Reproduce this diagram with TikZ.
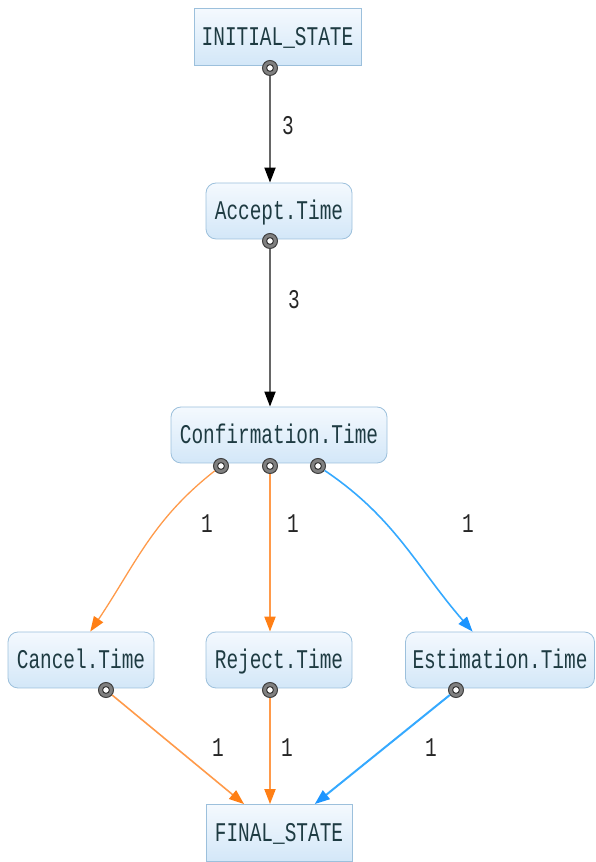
\documentclass[tikz,border=0pt]{standalone}
\usepackage{fontspec}
\newfontfamily\diagfont[FakeStretch=0.72]{Liberation Mono}
\usetikzlibrary{arrows.meta}
\usepackage{xcolor}
\definecolor{boxline}{HTML}{9CC0DC}
\definecolor{boxtop}{HTML}{F4F9FE}
\definecolor{boxbot}{HTML}{D3E7F8}
\definecolor{ink}{HTML}{1E3B42}
\definecolor{orng}{HTML}{FF9A4A}
\definecolor{orngtip}{HTML}{FF7F15}
\definecolor{sky}{HTML}{35A9FF}
\definecolor{skytip}{HTML}{1C95FF}

\begin{document}
\begin{tikzpicture}[x=1pt, y=1pt,
  statebox/.style={draw=boxline, thick, top color=boxtop, bottom color=boxbot, minimum width=146pt, minimum height=57pt, inner sep=0pt, text height=18pt, text depth=0pt, text=ink, font=\diagfont\fontsize{27}{27}\selectfont},
  act/.style={statebox, rounded corners=10pt, minimum height=56pt},
  port/.style={circle, draw=black!75, line width=1pt, fill=black!50, minimum size=15pt, inner sep=0pt,
    path picture={\draw[black!80, line width=1pt, fill=white] (path picture bounding box.center) circle (3.4pt);}},
  num/.style={text=black!85, font=\diagfont\fontsize{27}{27}\selectfont},
  blk/.style={draw=black!60, line width=1.8pt, -{Triangle[length=15pt, width=11pt, color=black]}},
  org/.style={draw=orng, line width=1.6pt, -{Triangle[length=15pt, width=11pt, color=orngtip]}},
  blu/.style={draw=sky, line width=1.6pt, -{Triangle[length=15pt, width=11pt, color=skytip]}}
]
  \useasboundingbox (0,0) rectangle (596,862);

  % states and activities
  \node[statebox, minimum width=167pt] (init) at (277.5,825) {INITIAL\_STATE};
  \node[act] (accept) at (279,651) {Accept.Time};
  \node[act, minimum width=216pt] (conf) at (279,427) {Confirmation.Time};
  \node[act] (cancel) at (81,202) {Cancel.Time};
  \node[act] (reject) at (279,202) {Reject.Time};
  \node[act, minimum width=189pt] (estim) at (500,202) {Estimation.Time};
  \node[statebox] (final) at (279,29) {FINAL\_STATE};

  % output ports
  \node[port] (ip) at (270,794) {};
  \node[port] (ap) at (270,621) {};
  \node[port] (cp1) at (221,396) {};
  \node[port] (cp2) at (270,396) {};
  \node[port] (cp3) at (318,396) {};
  \node[port] (kp) at (106,172) {};
  \node[port] (rp) at (270,172) {};
  \node[port] (ep) at (456,172) {};

  % transitions
  \draw[blk] (ip) -- (ip |- accept.north);
  \draw[blk] (ap) -- (ap |- conf.north);
  \draw[org, line width=1.3pt] (cp1) to[out=-142, in=56] (cancel.72);
  \draw[org, line width=2pt] (cp2) -- (cp2 |- reject.north);
  \draw[blu] (cp3) to[out=-34, in=131] (estim.134);
  \draw[org] (kp) -- (final);
  \draw[org, line width=2pt] (rp) -- (rp |- final.north);
  \draw[blu, line width=2pt] (ep) -- (final);

  % counts
  \node[num] (n1) at (288,736) {3};
  \node[num] (n2) at (294,562) {3};
  \node[num] (n3) at (207,338) {1};
  \node[num] (n4) at (293,338) {1};
  \node[num] (n5) at (468,338) {1};
  \node[num] (n6) at (218,114) {1};
  \node[num] (n7) at (287,114) {1};
  \node[num] (n8) at (431,114) {1};
\end{tikzpicture}
\end{document}
